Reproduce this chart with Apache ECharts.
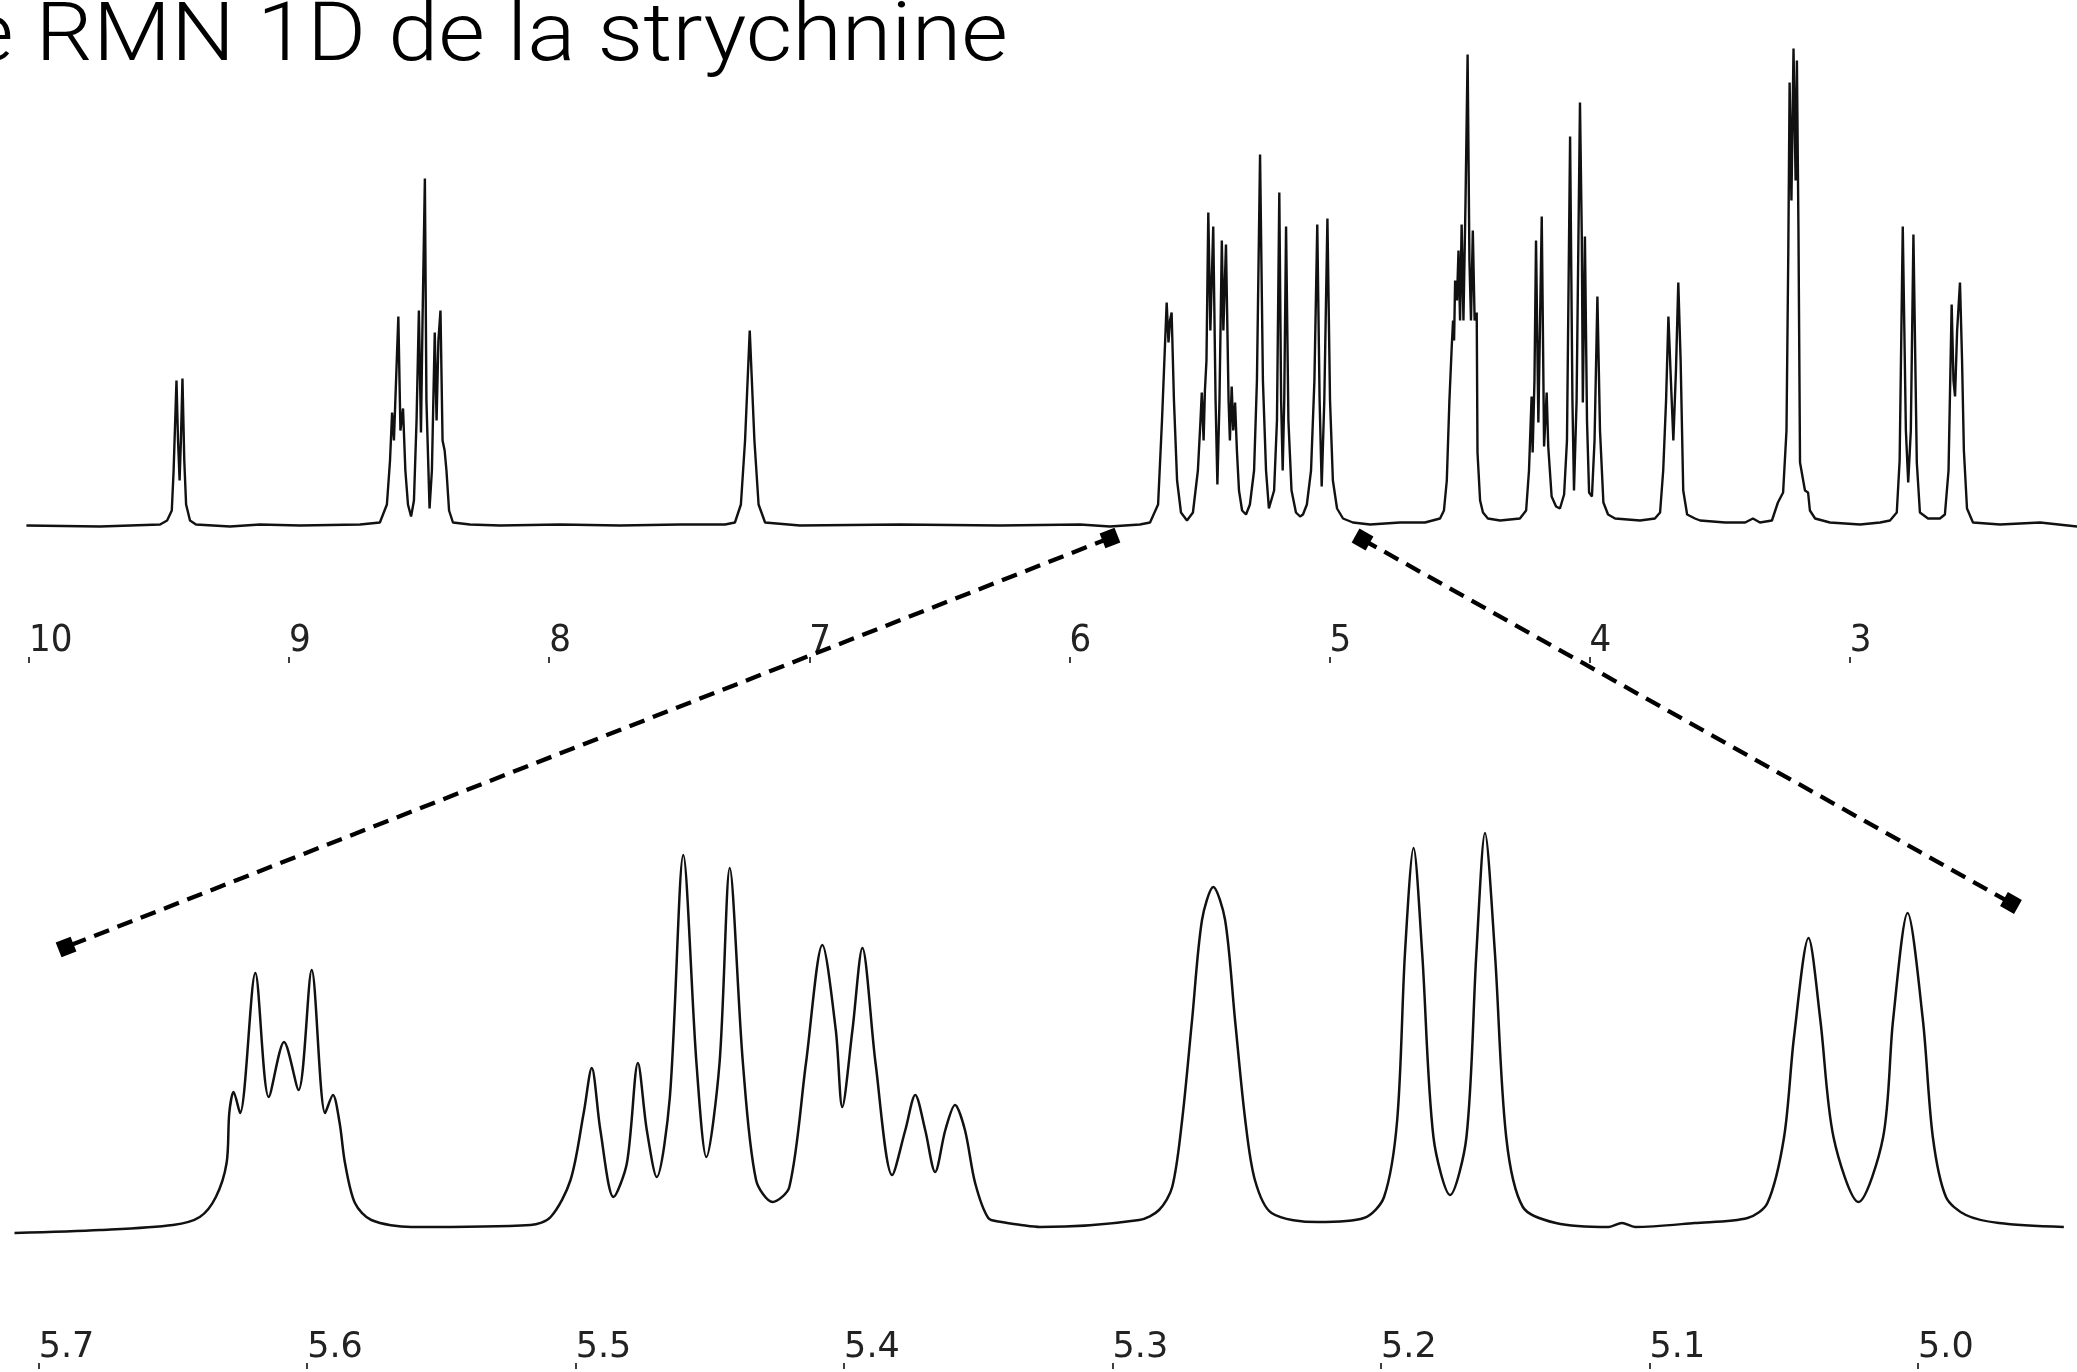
<!DOCTYPE html>
<html>
<head>
<meta charset="utf-8">
<title>Spectre RMN 1D de la strychnine</title>
<script src="https://cdn.jsdelivr.net/npm/echarts@6/dist/echarts.min.js"></script>
<style>
  html, body { margin: 0; padding: 0; background: #ffffff; }
  #chart { width: 2077px; height: 1372px; }
</style>
</head>
<body>
<div id="chart"></div>
<script>
// Chemical-shift ticks (ppm)
const topTicks = [10, 9, 8, 7, 6, 5, 4, 3];
const bottomTicks = [5.7, 5.6, 5.5, 5.4, 5.3, 5.2, 5.1, 5.0];

// Full 1H spectrum: chemical shift (ppm) and intensity (arbitrary units)
const topPpm = [
  10.01, 9.727, 9.496, 9.469, 9.451, 9.444, 9.433, 9.427, 9.421, 9.416, 9.410, 9.403, 9.396, 9.381, 9.358,
  9.227, 9.112, 8.958, 8.727, 8.651, 8.624, 8.612, 8.604, 8.597, 8.580, 8.572, 8.562, 8.553, 8.543, 8.531,
  8.520, 8.510, 8.501, 8.493, 8.487, 8.478, 8.472, 8.460, 8.451, 8.440, 8.433, 8.426, 8.418, 8.410, 8.402,
  8.395, 8.385, 8.370, 8.305, 8.189, 7.958, 7.728, 7.497, 7.324, 7.286, 7.263, 7.247, 7.229, 7.211, 7.195,
  7.170, 7.036, 6.651, 6.267, 5.959, 5.844, 5.729, 5.690, 5.659, 5.644, 5.626, 5.619, 5.613, 5.607, 5.598,
  5.586, 5.571, 5.548, 5.525, 5.506, 5.496, 5.491, 5.484, 5.479, 5.473, 5.466, 5.458, 5.447, 5.438, 5.431,
  5.423, 5.414, 5.408, 5.398, 5.388, 5.383, 5.376, 5.370, 5.363, 5.356, 5.348, 5.336, 5.321, 5.306, 5.290,
  5.279, 5.267, 5.256, 5.244, 5.233, 5.213, 5.202, 5.193, 5.186, 5.180, 5.174, 5.167, 5.158, 5.146, 5.129,
  5.113, 5.102, 5.087, 5.071, 5.058, 5.047, 5.038, 5.030, 5.020, 5.008, 4.998, 4.987, 4.971, 4.948, 4.910,
  4.844, 4.729, 4.633, 4.575, 4.560, 4.549, 4.539, 4.530, 4.525, 4.521, 4.517, 4.510, 4.504, 4.498, 4.492,
  4.485, 4.477, 4.469, 4.462, 4.456, 4.449, 4.442, 4.434, 4.431, 4.421, 4.410, 4.391, 4.344, 4.268, 4.244,
  4.233, 4.223, 4.219, 4.212, 4.206, 4.197, 4.191, 4.184, 4.175, 4.165, 4.159, 4.146, 4.129, 4.114, 4.098,
  4.087, 4.075, 4.066, 4.060, 4.050, 4.037, 4.030, 4.026, 4.018, 4.010, 4.002, 3.991, 3.981, 3.970, 3.960,
  3.947, 3.929, 3.902, 3.806, 3.749, 3.729, 3.717, 3.706, 3.697, 3.689, 3.678, 3.668, 3.659, 3.650, 3.640,
  3.625, 3.595, 3.575, 3.479, 3.402, 3.372, 3.345, 3.299, 3.276, 3.256, 3.243, 3.236, 3.231, 3.224, 3.216,
  3.208, 3.203, 3.197, 3.191, 3.172, 3.160, 3.153, 3.133, 3.076, 2.960, 2.883, 2.845, 2.819, 2.808, 2.796,
  2.784, 2.775, 2.765, 2.755, 2.742, 2.730, 2.699, 2.653, 2.634, 2.620, 2.608, 2.601, 2.595, 2.587, 2.576,
  2.568, 2.561, 2.549, 2.526, 2.422, 2.268, 2.126
];
const topIntensity = [
  -1, -2, 0, 4, 14, 54, 144, 84, 44, 84, 146, 64, 20, 4, 0,
  -2, 0, -1, 0, 2, 20, 64, 112, 84, 208, 94, 116, 54, 20, 8,
  24, 104, 214, 92, 204, 346, 124, 16, 54, 192, 104, 184, 214, 84, 74,
  54, 14, 2, 0, -1, 0, -1, 0, 0, 2, 20, 84, 194, 84, 20,
  2, -1, 0, -1, 0, -2, 0, 2, 20, 104, 222, 182, 204, 212, 124,
  44, 12, 4, 12, 54, 104, 132, 84, 134, 164, 312, 194, 298, 124, 40,
  124, 284, 194, 280, 124, 84, 138, 94, 122, 74, 34, 14, 10, 20, 54,
  144, 370, 144, 54, 16, 34, 104, 332, 124, 54, 124, 298, 104, 34, 12,
  8, 10, 20, 54, 144, 300, 124, 38, 124, 306, 124, 44, 16, 6, 2,
  0, 2, 2, 6, 14, 44, 124, 178, 204, 184, 244, 224, 274, 204, 300,
  204, 324, 470, 264, 204, 294, 204, 212, 72, 24, 12, 6, 4, 6, 14,
  54, 128, 72, 144, 284, 102, 194, 308, 78, 132, 78, 28, 18, 16, 30,
  84, 388, 124, 34, 124, 422, 288, 122, 288, 104, 32, 28, 84, 228, 94,
  22, 10, 6, 4, 6, 12, 54, 124, 208, 154, 84, 154, 242, 164, 34,
  10, 6, 4, 2, 2, 6, 2, 4, 22, 32, 94, 274, 442, 324, 476,
  344, 464, 294, 62, 34, 32, 14, 6, 2, 0, 2, 4, 12, 64, 298,
  94, 42, 94, 290, 62, 12, 6, 6, 10, 54, 220, 144, 128, 194, 242,
  164, 74, 16, 2, 0, 2, -2
];

// Expanded region 5.7 - 4.95 ppm
const bottomPpm = [
  5.709, 5.677, 5.650, 5.640, 5.634, 5.630, 5.629, 5.6274, 5.6250, 5.6193, 5.6143, 5.6086, 5.6032, 5.5983, 5.5933,
  5.5904, 5.5879, 5.5859, 5.5822, 5.5761, 5.5612, 5.5168, 5.5093, 5.5019, 5.4970, 5.4940, 5.4908, 5.4859, 5.4809, 5.4768,
  5.4735, 5.4698, 5.4649, 5.4599, 5.4550, 5.4513, 5.4464, 5.4426, 5.4377, 5.4328, 5.4266, 5.4204, 5.4142, 5.4081, 5.4031,
  5.4007, 5.3969, 5.3932, 5.3883, 5.3821, 5.3772, 5.3735, 5.3698, 5.3661, 5.3623, 5.3587, 5.3550, 5.3512, 5.3463, 5.3414,
  5.3340, 5.3270, 5.2901, 5.2827, 5.2778, 5.2741, 5.2704, 5.2667, 5.2625, 5.2581, 5.2544, 5.2506, 5.2470, 5.2408, 5.2236,
  5.2064, 5.1989, 5.1940, 5.1911, 5.1879, 5.1847, 5.1805, 5.1743, 5.1682, 5.1645, 5.1613, 5.1576, 5.1534, 5.1472, 5.1349,
  5.1152, 5.1103, 5.1054, 5.0832, 5.0635, 5.0561, 5.0499, 5.0462, 5.0408, 5.0364, 5.0315, 5.0222, 5.0130, 5.0093,
  5.0039, 4.9982, 4.9945, 4.9896, 4.9822, 4.9699, 4.9457
];
const bottomIntensity = [
  -1, 2, 7, 15, 35, 69, 119, 140, 119, 259, 135, 190, 142, 262, 119,
  137, 109, 69, 29, 12, 5, 7, 15, 52, 119, 164, 102, 35, 69, 169,
  102, 55, 135, 377, 169, 75, 169, 364, 169, 52, 30, 45, 169, 287, 202,
  125, 202, 284, 169, 57, 102, 137, 102, 60, 102, 127, 102, 49, 14, 10,
  7, 5, 12, 22, 45, 112, 212, 312, 345, 312, 212, 112, 52, 19, 10,
  14, 35, 112, 279, 384, 279, 95, 37, 95, 279, 399, 279, 95, 25, 9,
  5, 9, 5, 9, 14, 29, 95, 195, 294, 212, 95, 30, 95, 212,
  319, 212, 95, 35, 17, 9, 5
];

// Window of the full spectrum shown in the expansion, and where the links land below
const linkTop = [[5.844, -13.5], [4.873, -15]];
const linkBottom = [[5.6898, 285], [4.9654, 329]];

const topLabelFont = "'DejaVu Sans Condensed', 'DejaVu Sans', 'Liberation Sans', sans-serif";
const bottomLabelFont = "'DejaVu Sans', 'Liberation Sans', sans-serif";

function pairs(xs, ys) { return xs.map((x, i) => [x, ys[i]]); }

// ppm axis along the bottom of a panel: short ticks below, labels above them, starting at the tick
function ppmAxis(gridIndex, min, max, ticks, margin, fontSize, fontFamily, fmt) {
  return {
    type: 'value', gridIndex: gridIndex, inverse: true, min: min, max: max,
    position: 'bottom',
    axisLine: { show: false, onZero: false },
    splitLine: { show: false },
    axisTick: { show: true, inside: false, length: 6, customValues: ticks, lineStyle: { color: '#000', width: 1.5 } },
    axisLabel: {
      show: true, inside: true, margin: margin, customValues: ticks, align: 'left',
      fontSize: fontSize, fontFamily: fontFamily, color: '#222', formatter: fmt
    }
  };
}

const chart = echarts.init(document.getElementById('chart'), null, { renderer: 'canvas' });

chart.setOption({
  animation: false,
  backgroundColor: '#ffffff',
  grid: [
    { left: 0, right: 0, top: 24.5, height: 632.5 },
    { left: 0, right: 0, top: 732, height: 631 }
  ],
  xAxis: [
    ppmAxis(0, 2.1261, 10.1115, topTicks, -3, 38, topLabelFont, v => String(Math.round(v))),
    ppmAxis(1, 4.9408, 5.7144, bottomTicks, -2, 35, bottomLabelFont, v => v.toFixed(1))
  ],
  yAxis: [
    { type: 'value', gridIndex: 0, min: -132.5, max: 500, show: false },
    { type: 'value', gridIndex: 1, min: -131, max: 500, show: false }
  ],
  series: [
    {
      type: 'line', xAxisIndex: 0, yAxisIndex: 0, data: pairs(topPpm, topIntensity),
      showSymbol: false, symbol: 'none', silent: true,
      lineStyle: { color: '#111', width: 2.4 }
    },
    {
      type: 'line', xAxisIndex: 1, yAxisIndex: 1, data: pairs(bottomPpm, bottomIntensity),
      showSymbol: false, symbol: 'none', silent: true, smooth: 0.3,
      lineStyle: { color: '#111', width: 2.5 }
    }
  ]
});

// Title, then dashed links from the selected window to the expansion, ending in square markers
const graphics = [{
  type: 'text', x: -33, y: 39, z: 10, scaleX: 1.1,
  style: {
    text: 'e RMN 1D de la strychnine',
    fontSize: 82, fontWeight: 300, fontFamily: "Roboto, 'Open Sans', sans-serif",
    fill: '#000', verticalAlign: 'middle'
  }
}];
for (let i = 0; i < 2; i++) {
  const a = chart.convertToPixel({ gridIndex: 0 }, linkTop[i]);
  const b = chart.convertToPixel({ gridIndex: 1 }, linkBottom[i]);
  const ang = -Math.atan2(b[1] - a[1], b[0] - a[0]);
  graphics.push({
    type: 'line', z: 20,
    shape: { x1: a[0], y1: a[1], x2: b[0], y2: b[1] },
    style: { stroke: '#000', lineWidth: 4.3, lineDash: [16, 9] }
  });
  [a, b].forEach(p => graphics.push({
    type: 'rect', z: 21, x: p[0], y: p[1], rotation: ang,
    shape: { x: -8, y: -8, width: 16, height: 16 },
    style: { fill: '#000' }
  }));
}
chart.setOption({ graphic: graphics });
</script>
</body>
</html>
